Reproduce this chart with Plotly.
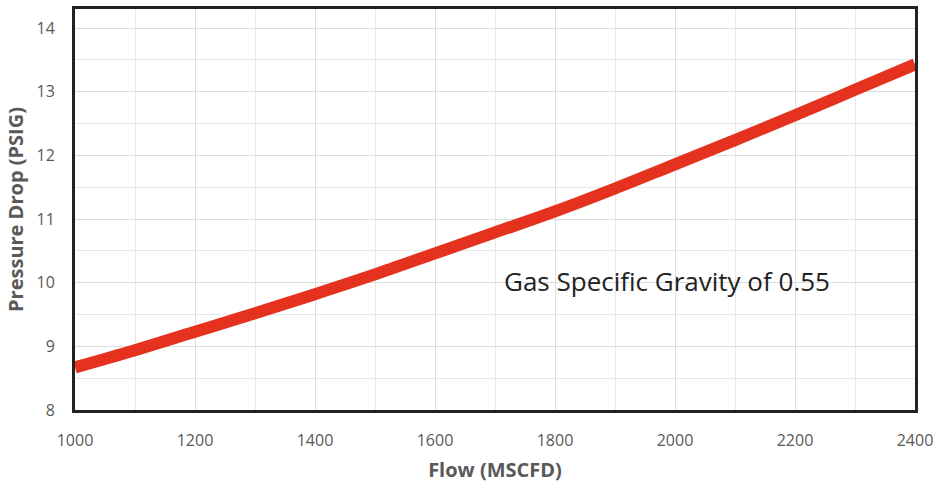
import plotly.graph_objects as go

flow = [1000, 1100, 1200, 1300, 1400, 1500, 1600, 1700, 1800, 1900, 2000, 2100, 2200, 2300, 2400]
pressure_drop = [8.67, 8.94, 9.23, 9.52, 9.82, 10.13, 10.46, 10.79, 11.12, 11.48, 11.86, 12.24, 12.63, 13.03, 13.43]
x_ticks = [1000, 1200, 1400, 1600, 1800, 2000, 2200, 2400]
y_ticks = [8, 9, 10, 11, 12, 13, 14]
annotation_text = "Gas Specific Gravity of 0.55"

fig = go.Figure()
fig.add_trace(go.Scatter(
    x=flow, y=pressure_drop, mode="lines",
    line=dict(color="#e5321f", width=12, shape="spline"),
    showlegend=False, hoverinfo="skip",
))

tick_font = dict(family="Open Sans, Liberation Sans, sans-serif", size=16, color="#595959")
title_font = dict(family="Open Sans, DejaVu Sans, sans-serif", size=20, color="#595959")

fig.update_layout(
    width=938, height=483,
    margin=dict(l=75, r=23, t=9, b=73, autoexpand=False),
    paper_bgcolor="white", plot_bgcolor="white",
    xaxis=dict(
        range=[1000, 2400], tickvals=x_ticks, tickfont=tick_font, automargin=False,
        showgrid=True, gridcolor="#dddddd", gridwidth=1,
        minor=dict(dtick=100, showgrid=True, gridcolor="#e8e8e8", gridwidth=1),
        showline=True, linecolor="#222222", linewidth=3, mirror=True,
        ticks="outside", ticklen=14, tickcolor="rgba(0,0,0,0)",
        zeroline=False,
        title=dict(text="<b>Flow (MSCFD)</b>", font=title_font, standoff=19),
    ),
    yaxis=dict(
        range=[8, 14.3], tickvals=y_ticks, tickfont=tick_font, automargin=False,
        showgrid=True, gridcolor="#dddddd", gridwidth=1,
        minor=dict(dtick=0.5, showgrid=True, gridcolor="#e8e8e8", gridwidth=1),
        showline=True, linecolor="#222222", linewidth=3, mirror=True,
        ticks="outside", ticklen=14, tickcolor="rgba(0,0,0,0)",
        zeroline=False,
        title=dict(text="<b>Pressure Drop (PSIG)</b>", font=title_font, standoff=8),
    ),
    annotations=[dict(
        x=1711, y=10.02, xref="x", yref="y", xanchor="left", yanchor="middle",
        text=annotation_text, showarrow=False,
        font=dict(family="Open Sans, sans-serif", size=26, color="#222222"),
    )],
)

fig.write_html(
    "out.html",
    config={"displayModeBar": False},
    post_script="document.body.style.margin='0';document.body.style.overflow='hidden';",
)
